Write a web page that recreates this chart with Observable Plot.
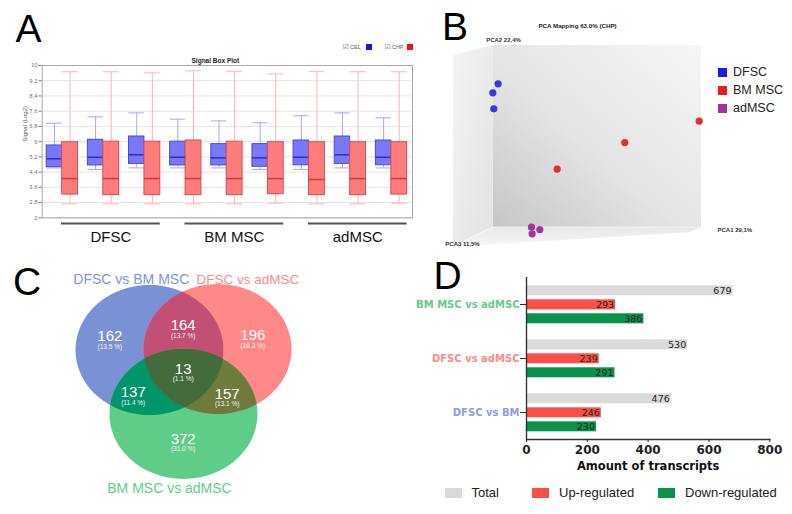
<!DOCTYPE html>
<html><head><meta charset="utf-8">
<script src="https://cdn.jsdelivr.net/npm/d3@7"></script>
<script src="https://cdn.jsdelivr.net/npm/@observablehq/plot@0.6"></script>
<style>
body{margin:0;background:#fff;font-family:"Liberation Sans",Arial,sans-serif;}
#fig{position:relative;width:792px;height:514px;overflow:hidden;background:#fff}
.abs{position:absolute;white-space:nowrap;line-height:1}
.letter{position:absolute;font-size:39px;line-height:1;color:#000;font-family:"Liberation Sans",Arial,sans-serif}
svg{overflow:hidden}
</style></head><body><div id="fig"></div>
<script>
// ---------- Panel A data (Signal box plot) ----------
const sampleNames = ["DFSC 1","DFSC 2","DFSC 3","BM MSC 1","BM MSC 2","BM MSC 3","adMSC 1","adMSC 2","adMSC 3"];
const groupNames = ["DFSC","BM MSC","adMSC"];
const celMin = [4.62, 4.54, 4.62, 4.62, 4.62, 4.54, 4.54, 4.62, 4.62];
const celQ1  = [4.66, 4.75, 4.83, 4.75, 4.75, 4.68, 4.76, 4.83, 4.76];
const celMed = [5.10, 5.18, 5.31, 5.18, 5.15, 5.15, 5.18, 5.31, 5.18];
const celQ3  = [5.80, 6.10, 6.27, 6.00, 5.87, 5.87, 6.06, 6.27, 6.06];
const celMax = [6.97, 7.30, 7.51, 7.18, 7.09, 6.99, 7.36, 7.51, 7.25];
const chpMin = [2.73, 2.73, 2.73, 2.73, 2.73, 2.77, 2.73, 2.73, 2.77];
const chpQ1  = [3.22, 3.19, 3.19, 3.19, 3.19, 3.24, 3.19, 3.19, 3.22];
const chpMed = [4.06, 4.06, 4.06, 4.06, 4.06, 4.06, 4.01, 4.06, 4.06];
const chpQ3  = [5.97, 6.00, 6.00, 6.06, 6.00, 5.97, 5.97, 5.97, 5.97];
const chpMax = [9.67, 9.67, 9.61, 9.72, 9.70, 9.56, 9.70, 9.67, 9.67];
const yTicksA = [2, 2.8, 3.6, 4.4, 5.2, 6, 6.8, 7.6, 8.4, 9.2, 10];

// ---------- Panel B data (PCA mapping, projected coordinates) ----------
const pcaGroups = ["DFSC","BM MSC","adMSC"];
const pcaPointGroup = ["DFSC","DFSC","DFSC","BM MSC","BM MSC","BM MSC","adMSC","adMSC","adMSC"];
const pcaProjX = [18.0, 15.85, 16.25, 99.07, 69.07, 41.8, 31.45, 34.8, 31.7];
const pcaProjY = [81.1, 76.7, 68.8, 62.7, 52.2, 39.06, 10.5, 9.36, 7.24];
const pcaAxisLabels = ["PCA1 29,1%", "PCA2 22,4%", "PCA3 11,5%"];
const pcaTitle = "PCA Mapping 63,0% (CHP)";

// ---------- Panel C data (Venn) ----------
const vennSets = ["DFSC vs BM MSC", "DFSC vs adMSC", "BM MSC vs adMSC"];
const vennCounts = [162, 164, 196, 13, 137, 157, 372];
const vennPercents = ["13.5", "13.7", "16.3", "1.1", "11.4", "13.1", "31.0"];

// ---------- Panel D data (DE transcripts) ----------
const comparisons = ["BM MSC vs adMSC", "DFSC vs adMSC", "DFSC vs BM"];
const regTypes = ["Total", "Up-regulated", "Down-regulated"];
const totalCounts = [679, 530, 476];
const upCounts = [293, 239, 246];
const downCounts = [386, 291, 230];
const xTicksD = [0, 200, 400, 600, 800];

// ================= layout helpers =================
const fig = document.getElementById("fig");
function place(el, left, top) { el.style.position = "absolute"; el.style.left = left + "px"; el.style.top = top + "px"; fig.appendChild(el); return el; }
function div(html, left, top, css) { const d = document.createElement("div"); d.className = "abs"; d.innerHTML = html; if (css) d.style.cssText += css; return place(d, left, top); }
function letter(t, left, top) { const d = document.createElement("div"); d.className = "letter"; d.textContent = t; return place(d, left, top); }

const baseStyle = {background: "transparent", fontFamily: "Liberation Sans, Arial, sans-serif", overflow: "visible"};

// ================= Panel A =================
const rowsA = sampleNames.map((name, i) => ({
  i, name,
  celMin: celMin[i], celQ1: celQ1[i], celMed: celMed[i], celQ3: celQ3[i], celMax: celMax[i],
  chpMin: chpMin[i], chpQ1: chpQ1[i], chpMed: chpMed[i], chpQ3: chpQ3[i], chpMax: chpMax[i]
}));
const bL = d => d.i + 0.11, bR = d => d.i + 0.485, bC = d => d.i + 0.2975;
const rL = d => d.i + 0.485, rR = d => d.i + 0.87, rC = d => d.i + 0.6775;
const celWhisk = "#a8a8f2", chpWhisk = "#ffb3b3";
const plotA = Plot.plot({
  width: 420, height: 260, marginTop: 65, marginBottom: 42.7, marginLeft: 41.7, marginRight: 8,
  x: {domain: [0, 9], axis: null},
  y: {domain: [2, 10], axis: null},
  style: baseStyle,
  marks: [
    Plot.gridY(yTicksA, {stroke: "#e4e4e4", strokeOpacity: 1}),
    Plot.axisY(yTicksA, {tickSize: 3, tickPadding: 1.5, fontSize: 6, color: "#777", label: null,
      tickFormat: d => String(d).replace(".", ",")}),
    Plot.frame({stroke: "#a8a8a8"}),
    Plot.text(["Signal (Log2)"], {frameAnchor: "left", dx: -17, rotate: -90, fontSize: 6, fill: "#555"}),
    Plot.text(["Signal Box Plot"], {frameAnchor: "top", dy: -7, dx: -12, fontSize: 6.5, fontWeight: "bold", fill: "#222"}),
    // CEL (blue)
    Plot.ruleX(rowsA, {x: bC, y1: "celMin", y2: "celQ1", stroke: celWhisk}),
    Plot.ruleX(rowsA, {x: bC, y1: "celQ3", y2: "celMax", stroke: celWhisk}),
    Plot.ruleY(rowsA, {y: "celMin", x1: bL, x2: bR, stroke: celWhisk}),
    Plot.ruleY(rowsA, {y: "celMax", x1: bL, x2: bR, stroke: celWhisk}),
    Plot.rect(rowsA, {x1: bL, x2: bR, y1: "celQ1", y2: "celQ3", fill: "#7878f8", stroke: "#4848e0"}),
    Plot.ruleY(rowsA, {y: "celMed", x1: bL, x2: bR, stroke: "#2c2cd2", strokeWidth: 1.5}),
    // CHP (red)
    Plot.ruleX(rowsA, {x: rC, y1: "chpMin", y2: "chpQ1", stroke: chpWhisk}),
    Plot.ruleX(rowsA, {x: rC, y1: "chpQ3", y2: "chpMax", stroke: chpWhisk}),
    Plot.ruleY(rowsA, {y: "chpMin", x1: rL, x2: rR, stroke: chpWhisk}),
    Plot.ruleY(rowsA, {y: "chpMax", x1: rL, x2: rR, stroke: chpWhisk}),
    Plot.rect(rowsA, {x1: rL, x2: rR, y1: "chpQ1", y2: "chpQ3", fill: "#ff7c7c", stroke: "#e04a4a"}),
    Plot.ruleY(rowsA, {y: "chpMed", x1: rL, x2: rR, stroke: "#d63636", strokeWidth: 1.5}),
    // group brackets and labels
    Plot.ruleY(groupNames, {y: 2, dy: 5.7, x1: (d, i) => 3 * i + 0.47, x2: (d, i) => 3 * i + 2.87, stroke: "#555", strokeWidth: 2.2}),
    Plot.text(groupNames, {x: (d, i) => 3 * i + 1.67, frameAnchor: "bottom", dy: 24.5, text: d => d, fontSize: 15, fill: "#111"})
  ]
});
place(plotA, 0, 0);

// legend A
const chk = (l, t) => div("&#9745;", l, t, "font-family:'DejaVu Sans';font-size:7px;color:#666");
chk(342.5, 43.5); div("CEL", 350, 44.5, "font-size:5.5px;color:#555");
div("", 365.5, 44, "width:6px;height:6px;background:#1414f0");
chk(384.5, 43.5); div("CHP", 392, 44.5, "font-size:5.5px;color:#555");
div("", 407, 44, "width:6px;height:6px;background:#f01414");

// ================= Panel B =================
const pcaRows = pcaProjX.map((x, i) => ({x, y: pcaProjY[i], group: pcaPointGroup[i]}));
// 3D box outline (projected): back wall, left wall, floor
const pcaBox = {
  back: [{x1: 16, x2: 100, y1: 10.5, y2: 100}],
  left: [{x: 0, y1: 1, y2: 95.1}, {x: 16, y1: 10.5, y2: 100}],
  floor: [{x: 0, y: 1}, {x: 16, y: 10.5}, {x: 100, y: 10.5}, {x: 94.9, y: 8.0}]
};
const plotB = Plot.plot({
  width: 372, height: 250, marginLeft: 33, marginRight: 91, marginTop: 45, marginBottom: 2,
  x: {domain: [0, 100], axis: null},
  y: {domain: [0, 100], axis: null},
  color: {domain: pcaGroups, range: ["#3535ea", "#ec2b2b", "#a235a2"]},
  style: baseStyle,
  marks: [
    Plot.rect(pcaBox.back, {x1: "x1", x2: "x2", y1: "y1", y2: "y2", fill: "url(#pcaBackGrad)"}),
    Plot.areaY(pcaBox.left, {x: "x", y1: "y1", y2: "y2", fill: "url(#pcaLeftGrad)"}),
    Plot.line(pcaBox.floor, {x: "x", y: "y", fill: "url(#pcaFloorGrad)", stroke: "none", curve: "linear-closed"}),
    Plot.dot(pcaRows, {x: "x", y: "y", fill: "group", r: 3.6}),
    Plot.text([pcaTitle], {frameAnchor: "top", dy: -22, fontSize: 6.2, fontWeight: "bold", fill: "#222"}),
    Plot.text([pcaAxisLabels[1]], {x: 16, y: 100, dx: -7, dy: -5, textAnchor: "start", fontSize: 6, fontWeight: "bold", fill: "#333"}),
    Plot.text([pcaAxisLabels[2]], {x: 0, y: 0, dx: 9, dy: -4, fontSize: 6, fontWeight: "bold", fill: "#333"}),
    Plot.text([pcaAxisLabels[0]], {x: 100, y: 10.5, dx: 16, dy: 2.5, textAnchor: "start", fontSize: 6, fontWeight: "bold", fill: "#333"})
  ]
});
{
  const defs = d3.select(plotB).insert("defs", ":first-child");
  const grad = (id, x1, y1, x2, y2, stops) => {
    const g = defs.append("linearGradient").attr("id", id).attr("x1", x1).attr("y1", y1).attr("x2", x2).attr("y2", y2);
    stops.forEach(([o, c]) => g.append("stop").attr("offset", o).attr("stop-color", c));
  };
  grad("pcaBackGrad", 1, 0, 0, 1, [[0, "#f6f6f6"], [0.55, "#e4e4e4"], [1, "#c6c6c6"]]);
  grad("pcaLeftGrad", 0, 0, 1, 1, [[0, "#f4f4f4"], [1, "#e2e2e2"]]);
  grad("pcaFloorGrad", 0, 0, 0, 1, [[0, "#e8e8e8"], [1, "#f6f6f6"]]);
}
place(plotB, 420, 0);
// legend B
pcaGroups.forEach((g, i) => {
  const col = ["#1a1aee", "#ee1a1a", "#a030a0"][i];
  div("", 718, 67.5 + 18 * i, `width:9px;height:9px;background:${col}`);
  div(g, 733, 65.5 + 18 * i, "font-size:12.5px;color:#222");
});

// ================= Panel C =================
const vennLayout = {
  centers: [[0, 0], [0.919, 0.015], [0.459, -0.983]],
  regionPos: [[-0.536, 0.212], [0.455, 0.377], [1.396, 0.223], [0.455, -0.289], [-0.220, -0.649], [1.05, -0.674], [0.455, -1.366]],
  setLabelPos: [[-0.246, 1.085, "middle"], [0.635, 1.085, "start"], [0.27, -2.135, "middle"]]
};
const circlePts = k => d3.range(0, 361, 3).map(a => ({
  x: vennLayout.centers[k][0] + Math.cos(a * Math.PI / 180),
  y: vennLayout.centers[k][1] + Math.sin(a * Math.PI / 180)
}));
const vennRows = vennCounts.map((c, i) => ({count: c, pct: vennPercents[i], x: vennLayout.regionPos[i][0], y: vennLayout.regionPos[i][1]}));
const setRows = vennSets.map((s, i) => ({name: s, x: vennLayout.setLabelPos[i][0], y: vennLayout.setLabelPos[i][1], anchor: vennLayout.setLabelPos[i][2], color: ["#7f96d8", "#ff8a8a", "#5fcf88"][i]}));
const circ = (k, fill) => Plot.line(circlePts(k), {x: "x", y: "y", fill, stroke: "none", curve: "linear-closed"});
const plotC = Plot.plot({
  width: 330, height: 264, margin: 0,
  x: {domain: [-2.0135, 2.446], axis: null},
  y: {domain: [-2.531, 1.531], axis: null},
  color: {type: "identity"},
  style: baseStyle,
  marks: [
    circ(0, "#7a92d4"),
    circ(1, "#ff8888"),
    circ(2, "#5fcd88"),
    circ(1, "#c24f74"),
    circ(2, "#00956a"),
    circ(2, "#6f7b3c"),
    circ(2, "#436b3c"),
    Plot.text(vennRows, {x: "x", y: "y", text: d => String(d.count), fontSize: 15, fill: "white"}),
    Plot.text(vennRows, {x: "x", y: "y", text: d => `(${d.pct} %)`, dy: 10.5, fontSize: 6.5, fill: "#f2f2f2"}),
    Plot.text(setRows.filter(d => d.anchor === "middle"), {x: "x", y: "y", text: "name", textAnchor: "middle", fontSize: 14, fill: "color"}),
    Plot.text(setRows.filter(d => d.anchor === "start"), {x: "x", y: "y", text: "name", textAnchor: "start", fontSize: 13.5, fill: "color"})
  ]
});
{
  const svg = d3.select(plotC);
  const markGs = Array.from(plotC.children).filter(n => n.tagName.toLowerCase() === "g");
  const pathD = k => markGs[k].querySelector("path").getAttribute("d");
  const defs = svg.insert("defs", ":first-child");
  defs.append("clipPath").attr("id", "clipBlue").append("path").attr("d", pathD(0));
  defs.append("clipPath").attr("id", "clipRed").append("path").attr("d", pathD(1));
  markGs[3].setAttribute("clip-path", "url(#clipBlue)");
  markGs[4].setAttribute("clip-path", "url(#clipBlue)");
  markGs[5].setAttribute("clip-path", "url(#clipRed)");
  markGs[6].setAttribute("clip-path", "url(#clipRed)");
  markGs[6].querySelector("path").setAttribute("clip-path", "url(#clipBlue)");
}
place(plotC, 0, 250);

// ================= Panel D =================
const rowsD = comparisons.flatMap((c, i) => [
  {comparison: c, type: regTypes[0], value: totalCounts[i]},
  {comparison: c, type: regTypes[1], value: upCounts[i]},
  {comparison: c, type: regTypes[2], value: downCounts[i]}
]);
const typeColors = ["#dadada", "#fd4f45", "#08924a"];
const compColors = ["#5fcf88", "#ff8a8a", "#8b9de0"];
const plotD = Plot.plot({
  width: 392, height: 230, marginLeft: 126, marginRight: 22.7, marginTop: 26.7, marginBottom: 40,
  x: {domain: [0, 800], axis: null},
  y: {domain: regTypes, axis: null, paddingInner: 0.31, paddingOuter: 0.53},
  fy: {domain: comparisons, padding: 0, axis: null},
  color: {domain: regTypes, range: typeColors},
  style: {...baseStyle, fontFamily: "DejaVu Sans, sans-serif"},
  marks: [
    Plot.barX(rowsD, {x: "value", y: "type", fy: "comparison", fill: "type"}),
    Plot.text(rowsD, {x: "value", y: "type", fy: "comparison", text: d => String(d.value), textAnchor: "end", dx: -1.5, fontSize: 9.5, fill: "#222"}),
    Plot.ruleX([0], {stroke: "#333", strokeWidth: 1.4}),
    Plot.frame({anchor: "bottom", facet: "super", stroke: "#333", strokeWidth: 1.4}),
    Plot.axisX(xTicksD, {tickSize: 3, tickPadding: 3, fontSize: 12, fontWeight: "bold", color: "#222", label: null}),
    Plot.axisFy({anchor: "left", tickSize: 6, tickPadding: 1, fontSize: 10, fontWeight: "bold", color: "#333", label: null}),
    Plot.text(["Amount of transcripts"], {facet: "super", frameAnchor: "bottom", dy: 30, fontSize: 11.5, fontWeight: "bold", fill: "#111"})
  ]
});
d3.select(plotD).selectAll('g[aria-label="fy-axis tick label"] text').each(function (d, i) { d3.select(this).attr("fill", compColors[i]); });
place(plotD, 400, 250);
// legend D
regTypes.forEach((t, i) => {
  const sx = [445, 532, 658][i], tx = [471.5, 559, 685][i];
  div("", sx, 488, `width:17px;height:10px;background:${typeColors[i]}`);
  div(t, tx, 486, "font-size:13px;color:#222");
});

// panel letters
letter("A", 15.5, 8.5);
letter("B", 442, 6.5);
letter("C", 13, 261.5);
letter("D", 433.5, 255.5);
</script></body></html>
